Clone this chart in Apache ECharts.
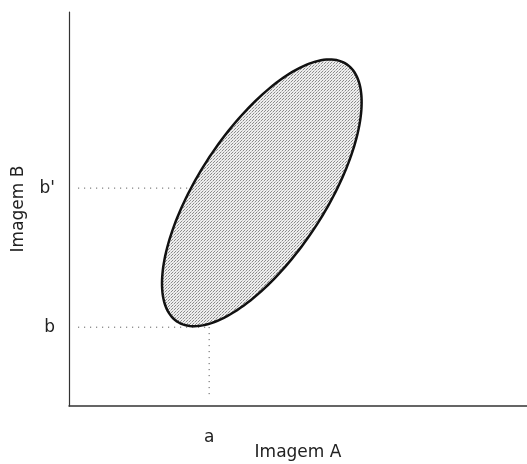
<!DOCTYPE html>
<html>
<head>
<meta charset="utf-8">
<script src="https://cdn.jsdelivr.net/npm/echarts@6/dist/echarts.min.js"></script>
<style>html,body{margin:0;padding:0;background:#fff;}#c{width:527px;height:464px;}</style>
</head>
<body>
<div id="c"></div>
<script>
// Axis names
var xAxisName = 'Imagem A';
var yAxisName = 'Imagem B';
// Tick labels and their positions (data units, axes run 0..100)
var xTickValues = [30.6];
var xTickLabels = ['a'];
var yTickValues = [20.0, 55.3];
var yTickLabels = ['b', "b'"];
// Ellipse: centre A, centre B, semi-major, semi-minor, angle (deg) in data units
var ellipseCenterA = [42.1];
var ellipseCenterB = [54.1];
var ellipseMajor = [37.6];
var ellipseMinor = [14.4];
var ellipseAngle = [61.9];
// Guide lines (dotted)
var guideStart = 2;

var FONT = 'DejaVu Sans';
function labelFor(values, labels, v) {
  for (var i = 0; i < values.length; i++) if (Math.abs(values[i] - v) < 1e-6) return labels[i];
  return '';
}
var aVal = xTickValues[0], bVal = yTickValues[0], bpVal = yTickValues[1];

// stipple pattern for the ellipse fill
var tile = document.createElement('canvas');
tile.width = 3; tile.height = 3;
var tctx = tile.getContext('2d');
tctx.fillStyle = '#eeeeee'; tctx.fillRect(0, 0, 3, 3);
tctx.fillStyle = '#8a8a8a'; tctx.fillRect(0, 0, 1, 1); tctx.fillRect(1, 2, 1, 1);
tctx.fillStyle = '#c4c4c4'; tctx.fillRect(2, 1, 1, 1);

var chart = echarts.init(document.getElementById('c'));
chart.setOption({
  animation: false,
  backgroundColor: '#fff',
  grid: { left: 69, right: 0, top: 12, bottom: 58, containLabel: false, outerBoundsMode: 'none' },
  xAxis: {
    type: 'value', min: 0, max: 100,
    name: xAxisName, nameLocation: 'middle', nameGap: 38, nameMoveOverlap: false,
    nameTextStyle: { fontFamily: FONT, fontSize: 17, color: '#222' },
    axisLine: { show: true, lineStyle: { color: '#333', width: 1.5 } },
    axisTick: { show: false },
    splitLine: { show: false },
    axisLabel: {
      customValues: xTickValues, margin: 23,
      fontFamily: FONT, fontSize: 17, color: '#222',
      formatter: function (v) { return labelFor(xTickValues, xTickLabels, v); }
    }
  },
  yAxis: {
    type: 'value', min: 0, max: 100,
    name: yAxisName, nameLocation: 'middle', nameGap: 42, nameMoveOverlap: false,
    nameTextStyle: { fontFamily: FONT, fontSize: 17, color: '#222' },
    axisLine: { show: true, lineStyle: { color: '#333', width: 1.2 } },
    axisTick: { show: false },
    splitLine: { show: false },
    axisLabel: {
      customValues: yTickValues, margin: 14,
      fontFamily: FONT, fontSize: 17, color: '#222',
      formatter: function (v) { return labelFor(yTickValues, yTickLabels, v); }
    }
  },
  series: [
    {
      type: 'line', symbol: 'none', silent: true, z: 1,
      data: [[guideStart, bpVal], [aVal, bpVal], [aVal, guideStart]],
      lineStyle: { color: '#444', width: 1, type: [1, 5] }
    },
    {
      type: 'line', symbol: 'none', silent: true, z: 1,
      data: [[guideStart, bVal], [aVal, bVal]],
      lineStyle: { color: '#444', width: 1, type: [1, 5] }
    },
    {
      type: 'custom', z: 2, silent: true,
      data: [[ellipseCenterA[0], ellipseCenterB[0], ellipseMajor[0], ellipseMinor[0], ellipseAngle[0]]],
      renderItem: function (params, api) {
        var cx = api.value(0), cy = api.value(1), ra = api.value(2), rb = api.value(3);
        var th = api.value(4) * Math.PI / 180;
        var pts = [];
        var N = 180;
        for (var i = 0; i < N; i++) {
          var t = 2 * Math.PI * i / N;
          var ex = ra * Math.cos(t), ey = rb * Math.sin(t);
          var x = cx + ex * Math.cos(th) - ey * Math.sin(th);
          var y = cy + ex * Math.sin(th) + ey * Math.cos(th);
          pts.push(api.coord([x, y]));
        }
        return {
          type: 'polygon',
          shape: { points: pts },
          style: { fill: { image: tile, repeat: 'repeat' }, stroke: '#111', lineWidth: 2.5 }
        };
      }
    }
  ]
});
</script>
</body>
</html>
